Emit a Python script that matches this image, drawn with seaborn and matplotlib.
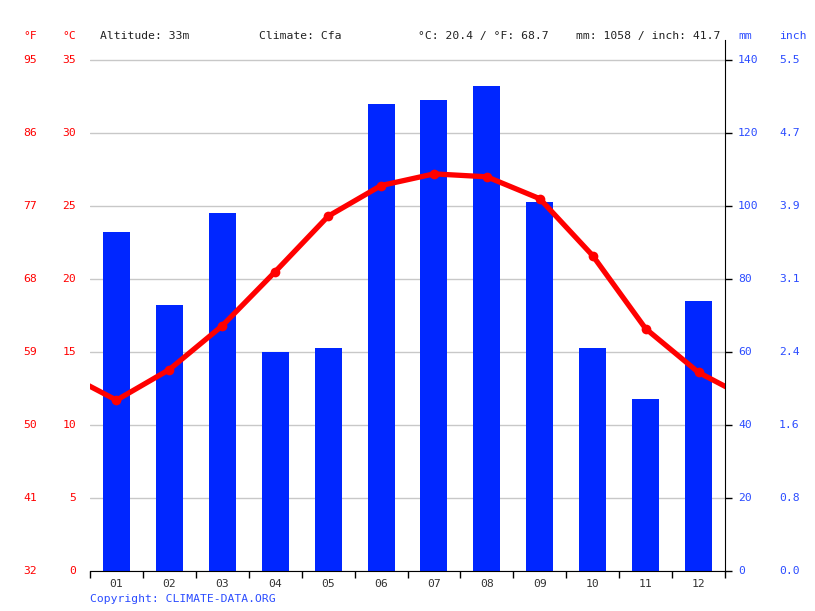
import matplotlib
matplotlib.use("Agg")
import matplotlib.pyplot as plt
import matplotlib.transforms as mtrans
import seaborn as sns
import pandas as pd

# monthly climate values
months = ["01", "02", "03", "04", "05", "06", "07", "08", "09", "10", "11", "12"]
precip_mm = [93, 73, 98, 60, 61, 128, 129, 133, 101, 61, 47, 74]
temp_c = [11.7, 13.8, 16.8, 20.5, 24.3, 26.4, 27.2, 27.0, 25.5, 21.6, 16.6, 13.6]

c_ticks = [0, 5, 10, 15, 20, 25, 30, 35]
f_labels = ["32", "41", "50", "59", "68", "77", "86", "95"]
mm_ticks = [0, 20, 40, 60, 80, 100, 120, 140]
inch_labels = ["0.0", "0.8", "1.6", "2.4", "3.1", "3.9", "4.7", "5.5"]

RED = "#ff0000"
BLUE = "#0026ff"
LBLUE = "#2b4cff"
FONT = "DejaVu Sans Mono"
FS = 8.2

sns.set_style("white")
plt.rcParams["font.family"] = [FONT, "DejaVu Sans"]

fig = plt.figure(figsize=(8.15, 6.11), dpi=100)
ax = fig.add_axes([90 / 815, 40 / 611, 635 / 815, 531 / 611])

# precipitation bars
df_p = pd.DataFrame({"x": list(range(12)), "mm": precip_mm})
sns.barplot(data=df_p, x="x", y="mm", color=BLUE, saturation=1, width=0.51,
            native_scale=True, linewidth=0, ax=ax, zorder=2)

# temperature line, wrapped around so it runs to the edges
ax2 = ax.twinx()
line_x = [-1] + list(range(12)) + [12]
line_y = [temp_c[-1]] + temp_c + [temp_c[0]]
df_t = pd.DataFrame({"x": line_x, "c": line_y})
sns.lineplot(data=df_t, x="x", y="c", color=RED, linewidth=3.8, marker="o",
             markersize=7, markeredgewidth=0, ax=ax2)

ymax_mm = 531 / 511 * 140
ax.set_xlim(-0.5, 11.5)
ax.set_ylim(0, ymax_mm)
ax.set_yticks(mm_ticks)
ax.yaxis.grid(True, color="#c8c8c8", linewidth=1)
ax.set_axisbelow(True)
ax.tick_params(axis="y", length=5, width=1, color="black", left=False, right=True,
               labelleft=False, labelright=False, direction="out")
ax.set_xticks(range(12))
ax.set_xticklabels(months, color="#333333", fontsize=FS)
ax.set_xticks([i - 0.5 for i in range(13)], minor=True)
ax.tick_params(axis="x", which="major", length=0, pad=6)
ax.tick_params(axis="x", which="minor", length=5, width=1, color="black", bottom=True, direction="out")
for s in ["top", "left"]:
    ax.spines[s].set_visible(False)
ax.spines["right"].set_visible(True)
ax.spines["right"].set_color("black")
ax.spines["bottom"].set_color("black")
ax.set_xlabel("")
ax.set_ylabel("")

ax2.set_ylim(0, ymax_mm / 4)
ax2.set_xlim(-0.5, 11.5)
ax2.set_yticks([])
ax2.set_xlabel("")
ax2.set_ylabel("")
for s in ax2.spines.values():
    s.set_visible(False)

# axis value labels
tr = mtrans.blended_transform_factory(fig.transFigure, ax2.transData)
for c, f in zip(c_ticks, f_labels):
    fig.text(76 / 815, c, str(c), transform=tr, ha="right", va="center", color=RED, fontsize=FS)
    fig.text(37 / 815, c, f, transform=tr, ha="right", va="center", color=RED, fontsize=FS)
tr2 = mtrans.blended_transform_factory(fig.transFigure, ax.transData)
for m, i in zip(mm_ticks, inch_labels):
    fig.text(738 / 815, m, str(m), transform=tr2, ha="left", va="center", color=LBLUE, fontsize=FS)
    fig.text(779 / 815, m, i, transform=tr2, ha="left", va="center", color=LBLUE, fontsize=FS)

top_y = 1 - 36 / 611
fig.text(37 / 815, top_y, "°F", ha="right", va="center", color=RED, fontsize=FS)
fig.text(76 / 815, top_y, "°C", ha="right", va="center", color=RED, fontsize=FS)
fig.text(738 / 815, top_y, "mm", ha="left", va="center", color=LBLUE, fontsize=FS)
fig.text(779 / 815, top_y, "inch", ha="left", va="center", color=LBLUE, fontsize=FS)
fig.text(100 / 815, top_y, "Altitude: 33m", ha="left", va="center", color="#222222", fontsize=FS)
fig.text(259 / 815, top_y, "Climate: Cfa", ha="left", va="center", color="#222222", fontsize=FS)
fig.text(418 / 815, top_y, "°C: 20.4 / °F: 68.7", ha="left", va="center", color="#222222", fontsize=FS)
fig.text(576 / 815, top_y, "mm: 1058 / inch: 41.7", ha="left", va="center", color="#222222", fontsize=FS)

fig.text(90 / 815, 1 - 599 / 611, "Copyright: CLIMATE-DATA.ORG", ha="left", va="center",
         color=LBLUE, fontsize=FS)

fig.savefig("out.png", dpi=100)
